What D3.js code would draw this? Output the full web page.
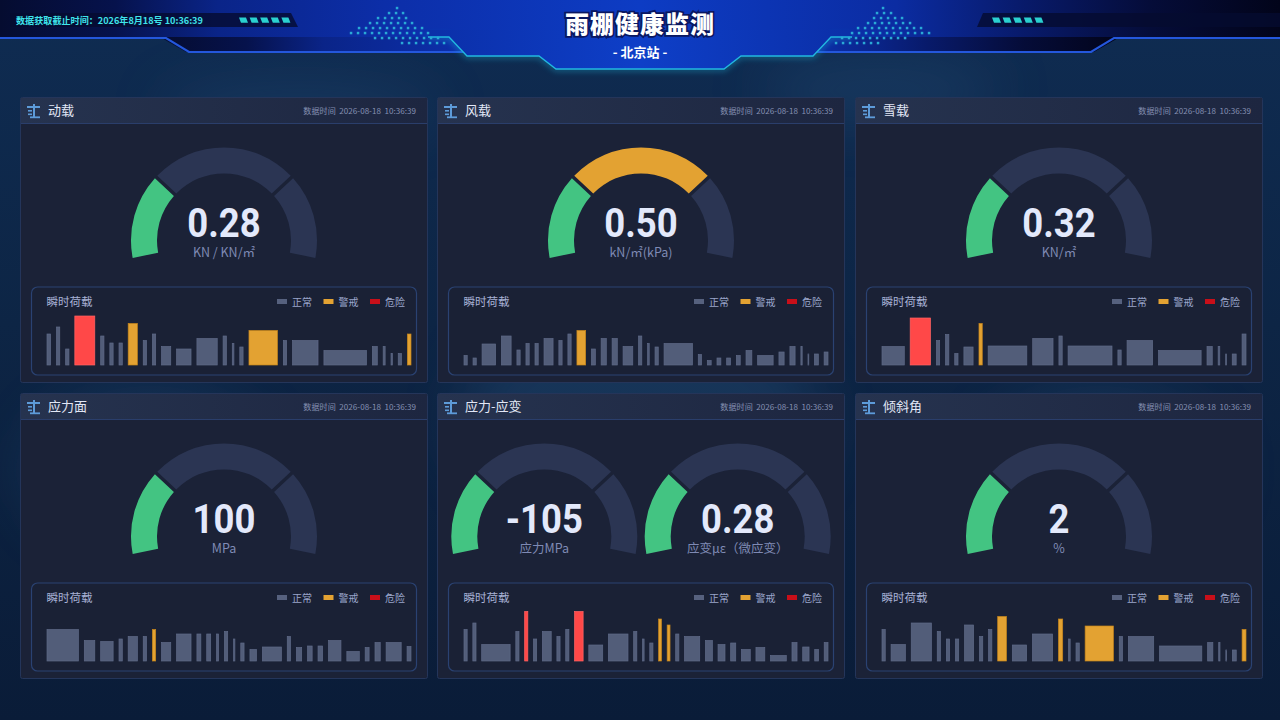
<!DOCTYPE html>
<html lang="zh">
  <head>
    <meta charset="utf-8" />
    <title>雨棚健康监测</title>
    <style>
      html, body { margin: 0; padding: 0; background: #0c2242; overflow: hidden; }
      svg { display: block; }
    </style>
  </head>
  <body>
    <!-- Load d3.js -->
    <script src="https://d3js.org/d3.v7.min.js"></script>

    <div id="my_dataviz"></div>

    <script>
      const width = 1280, height = 720;
      const cnFont = '"Noto Sans CJK SC","Noto Sans",sans-serif';
      const numFont = 'Roboto,"Noto Sans",sans-serif';

      // ---- header texts
      const updateLabel = "数据获取截止时间：2026年8月18号 10:36:39";
      const pageTitle = "雨棚健康监测";
      const stationName = "- 北京站 -";
      const dataTime = "数据时间  2026-08-18  10:36:39";

      // ---- panels
      const panelTitles = ["动载", "风载", "雪载", "应力面", "应力-应变", "倾斜角"];
      const gaugeValues = [["0.28"], ["0.50"], ["0.32"], ["100"], ["-105", "0.28"], ["2"]];
      const gaugeUnits = [["KN / KN/㎡"], ["kN/㎡(kPa)"], ["KN/㎡"], ["MPa"], ["应力MPa", "应变με（微应变）"], ["%"]];
      // 1 = 正常, 2 = 警戒, 3 = 危险
      const gaugeLevels = [[1], [2], [1], [1], [1, 1], [1]];
      const gaugeSplits = [0, 0.27, 0.73, 1];

      const chartTitle = "瞬时荷载";
      const levelNames = ["正常", "警戒", "危险"];

      // ---- 瞬时荷载: duration of each record, load value, level (0 正常 / 1 警戒 / 2 危险)
      const dur1 = [1.1, 1, 1, 6.1, 1, 1, 1, 2.8, 1, 1, 2.8, 4.4, 6.2, 1, 0.5, 1, 8.7, 1, 7.8, 13, 1.5, 0.6, 0.4, 1, 1.1];
      const load1 = [0.62, 0.76, 0.32, 0.98, 0.58, 0.44, 0.44, 0.83, 0.49, 0.62, 0.37, 0.32, 0.53, 0.58, 0.43, 0.36, 0.69, 0.49, 0.49, 0.29, 0.37, 0.37, 0.23, 0.23, 0.62];
      const lvl1 = [0, 0, 0, 2, 0, 0, 0, 1, 0, 0, 0, 0, 0, 0, 0, 0, 1, 0, 0, 0, 0, 0, 0, 0, 1];

      const dur2 = [1, 1, 4.2, 3, 1, 1, 1, 2.8, 1, 1, 2.7, 1.2, 1.6, 1.6, 3, 1, 0.5, 1, 8.8, 1, 1.2, 1.2, 1.2, 1.2, 1.8, 4.8, 1.6, 1.6, 0.4, 0.2, 1.2, 1.2];
      const load2 = [0.19, 0.14, 0.42, 0.58, 0.30, 0.43, 0.43, 0.53, 0.49, 0.62, 0.69, 0.32, 0.53, 0.53, 0.37, 0.58, 0.43, 0.36, 0.43, 0.21, 0.09, 0.14, 0.14, 0.19, 0.29, 0.19, 0.26, 0.37, 0.37, 0.22, 0.22, 0.26];
      const lvl2 = [0, 0, 0, 0, 0, 0, 0, 0, 0, 0, 1, 0, 0, 0, 0, 0, 0, 0, 0, 0, 0, 0, 0, 0, 0, 0, 0, 0, 0, 0, 0, 0];

      const dur3 = [6.8, 6.2, 1, 1, 1, 2.8, 1, 11.8, 6.2, 1, 13.4, 1, 7.8, 13, 1.6, 0.5, 0.2, 1.2, 1.2];
      const load3 = [0.37, 0.94, 0.49, 0.61, 0.23, 0.36, 0.83, 0.38, 0.53, 0.58, 0.38, 0.30, 0.49, 0.29, 0.37, 0.37, 0.22, 0.22, 0.62];
      const lvl3 = [0, 2, 0, 0, 0, 0, 1, 0, 0, 0, 0, 0, 0, 0, 0, 0, 0, 0, 0];

      const dur4 = [9.6, 3.2, 3.8, 1, 2.8, 1, 1, 2.8, 4.4, 1.2, 1.2, 0.6, 1, 0.4, 1, 2, 5.8, 1, 1.6, 1.4, 1.4, 3.8, 3.8, 1.2, 1.6, 4.6, 1.2];
      const load4 = [0.63, 0.41, 0.39, 0.44, 0.49, 0.49, 0.63, 0.37, 0.54, 0.54, 0.54, 0.54, 0.59, 0.44, 0.36, 0.23, 0.28, 0.49, 0.27, 0.30, 0.30, 0.41, 0.19, 0.27, 0.37, 0.37, 0.29];
      const lvl4 = [0, 0, 0, 0, 0, 0, 1, 0, 0, 0, 0, 0, 0, 0, 0, 0, 0, 0, 0, 0, 0, 0, 0, 0, 0, 0, 0];

      const dur5 = [1, 1, 9, 1, 1, 1, 2.8, 1, 1, 2.7, 4.4, 6.2, 1, 0.5, 1, 0.9, 0.9, 1, 4.8, 2.2, 2.2, 1.6, 2.8, 2.8, 5, 1.6, 2, 1.2, 1.2];
      const load5 = [0.63, 0.76, 0.33, 0.59, 0.99, 0.44, 0.59, 0.49, 0.63, 0.99, 0.32, 0.54, 0.59, 0.44, 0.36, 0.84, 0.72, 0.54, 0.49, 0.41, 0.33, 0.36, 0.23, 0.27, 0.11, 0.37, 0.28, 0.23, 0.37];
      const lvl5 = [0, 0, 0, 0, 2, 0, 0, 0, 0, 2, 0, 0, 0, 0, 0, 1, 1, 0, 0, 0, 0, 0, 0, 0, 0, 0, 0, 0, 0];

      const dur6 = [1, 4.4, 6.2, 1, 1, 1, 2.8, 1, 1, 2.7, 4.4, 6.2, 1.3, 0.5, 1, 8.7, 1, 7.8, 13, 1.6, 0.4, 0.2, 1.2, 1.2];
      const load6 = [0.63, 0.33, 0.76, 0.59, 0.44, 0.44, 0.72, 0.49, 0.63, 0.89, 0.32, 0.54, 0.84, 0.44, 0.36, 0.70, 0.49, 0.49, 0.30, 0.37, 0.37, 0.22, 0.22, 0.63];
      const lvl6 = [0, 0, 0, 0, 0, 0, 0, 0, 0, 1, 0, 0, 1, 0, 0, 1, 0, 0, 0, 0, 0, 0, 0, 1];

      const durations = [dur1, dur2, dur3, dur4, dur5, dur6];
      const loads = [load1, load2, load3, load4, load5, load6];
      const levels = [lvl1, lvl2, lvl3, lvl4, lvl5, lvl6];

      // ---- layout / colours
      const panelX = [20, 437, 855], panelY = [97, 393];
      const panelW = 408, panelH = 286;
      const segOn = ["#43c482", "#e3a232", "#ff4646"];
      const segOff = "#2b3553";
      const barFill = ["#525d79", "#e3a232", "#ff4848"];
      const barStroke = ["#5f6a88", "#c7861c", "#ff6464"];
      const legendFill = ["#56617e", "#e3a232", "#c80f19"];

      const svg = d3
        .select("#my_dataviz")
        .append("svg")
        .attr("width", width)
        .attr("height", height);
      const defs = svg.append("defs");

      const addLinear = (id, stops, x2, y2) => {
        const g = defs.append("linearGradient").attr("id", id)
          .attr("x1", 0).attr("y1", 0).attr("x2", x2).attr("y2", y2);
        g.selectAll("stop").data(stops).join("stop")
          .attr("offset", d => d[0]).attr("stop-color", d => d[1]);
      };
      addLinear("bg", [["0%", "#0f2c52"], ["45%", "#0d2545"], ["100%", "#0a1c38"]], 0, 1);
      addLinear("band", [["0%", "#050c30"], ["9%", "#06124c"], ["17%", "#0a2488"], ["30%", "#0c2ea8"], ["50%", "#0d3cc4"], ["70%", "#0b2ca2"], ["80%", "#081a6a"], ["90%", "#050c38"], ["100%", "#02041a"]], 1, 0);
      addLinear("banner", [["0%", "#0b2fa8"], ["50%", "#0e3fc8"], ["100%", "#0b2fa8"]], 1, 0);
      addLinear("phead", [["0%", "#26334f"], ["100%", "#1d2640"]], 1, 0);
      defs.append("filter").attr("id", "blur").attr("x", "-50%").attr("y", "-50%").attr("width", "200%").attr("height", "200%")
        .append("feGaussianBlur").attr("stdDeviation", 28);
      defs.append("filter").attr("id", "glow").attr("x", "-20%").attr("y", "-50%").attr("width", "140%").attr("height", "200%")
        .append("feGaussianBlur").attr("stdDeviation", 3);

      // ---- background
      svg.append("rect").attr("width", width).attr("height", height).attr("fill", "url(#bg)");
      const blobs = [[880, 90, 120, 30], [300, 110, 140, 25], [640, 420, 180, 120], [1100, 470, 120, 80], [150, 470, 120, 80]];
      svg.append("g").attr("filter", "url(#blur)").attr("opacity", 0.35)
        .selectAll("ellipse").data(blobs).join("ellipse")
        .attr("cx", d => d[0]).attr("cy", d => d[1]).attr("rx", d => d[2]).attr("ry", d => d[3])
        .attr("fill", "#2a5580");

      // ---- header
      const head = svg.append("g");
      head.append("rect").attr("width", width).attr("height", 38).attr("fill", "url(#band)");
      head.append("path")
        .attr("d", "M160,37 L186,52 L1094,52 L1120,37 Z")
        .attr("fill", "url(#band)");
      head.append("path")
        .attr("d", "M0,38 L166,38 L189,52 L1091,52 L1114,38 L1280,38")
        .attr("fill", "none").attr("stroke", "#2457dc").attr("stroke-width", 2.2);
      head.append("path")
        .attr("d", "M428,37 L449,37 L467,56 L539,56 L556,69 L724,69 L741,56 L813,56 L831,37 L852,37")
        .attr("fill", "none").attr("stroke", "#1fb6dc").attr("stroke-width", 4).attr("opacity", 0.5).attr("filter", "url(#glow)");
      head.append("path")
        .attr("d", "M428,37 L449,37 L467,56 L539,56 L556,69 L724,69 L741,56 L813,56 L831,37 L852,37 L852,30 L428,30 Z")
        .attr("fill", "url(#banner)");
      head.append("path")
        .attr("d", "M428,37 L449,37 L467,56 L539,56 L556,69 L724,69 L741,56 L813,56 L831,37 L852,37")
        .attr("fill", "none").attr("stroke", "#22b8e0").attr("stroke-width", 1.3);

      // dotted triangles (apex at top, lattice rows going down)
      const dots = [];
      for (let r = 0; r < 8; r++) {
        const y = r * 5;
        const x0 = -r * 9.5, x1 = r * 7.15;
        for (let x = x0 + (r % 2) * 1.5; x <= x1 + 0.1; x += 7) {
          if (y <= 25 + (x + 47) * 0.2) dots.push([x, y]);
        }
      }
      [[397, 8, 1], [883, 8, -1]].forEach(([ox, oy, s]) => {
        head.append("g")
          .selectAll("rect").data(dots).join("rect")
          .attr("x", d => ox + s * d[0] - 1.2)
          .attr("y", d => oy + d[1] - 1.2)
          .attr("width", 2.5).attr("height", 2.5)
          .attr("fill", "#2aa9d6");
      });

      // time strip (left) & deco strip (right)
      head.append("path").attr("d", "M10,13 L291,13 L298,27 L10,27 Z").attr("fill", "#050b30").attr("opacity", 0.8);
      head.append("path").attr("d", "M983,13 L1280,13 L1280,27 L977,27 Z").attr("fill", "#050b30").attr("opacity", 0.8);
      [237, 990].forEach(sx => {
        head.append("g").selectAll("path").data([0, 1, 2, 3, 4]).join("path")
          .attr("d", d => {
            const x0 = sx + d * 10.6;
            return `M${x0 + 2},17.5 L${x0 + 9},17.5 L${x0 + 11},22.8 L${x0 + 4},22.8 Z`;
          })
          .attr("fill", "#2ad0d0");
      });
      head.append("text")
        .attr("x", 16).attr("y", 24)
        .attr("font-family", cnFont).attr("font-size", 9.1).attr("font-weight", 700)
        .attr("fill", "#3fe3ea")
        .text(updateLabel);

      head.append("text")
        .attr("x", 640).attr("y", 33)
        .attr("text-anchor", "middle")
        .attr("font-family", cnFont).attr("font-size", 24).attr("font-weight", 900)
        .attr("letter-spacing", 1)
        .attr("fill", "#ffffff").attr("stroke", "#0a1760").attr("stroke-width", 3.5)
        .attr("paint-order", "stroke")
        .text(pageTitle);
      head.append("text")
        .attr("x", 640).attr("y", 57)
        .attr("text-anchor", "middle")
        .attr("font-family", cnFont).attr("font-size", 13).attr("font-weight", 700)
        .attr("fill", "#ffffff")
        .attr("xml:space", "preserve")
        .text(stationName);

      // ---- panels
      const angle = d3.scaleLinear().domain([0, 1]).range([-102 * Math.PI / 180, 102 * Math.PI / 180]);
      const arc = d3.arc().innerRadius(67).outerRadius(93).padAngle(0.03).cornerRadius(0);

      const drawGauge = (g, cx, cy, value, unit, level) => {
        const segs = d3.range(3).map(i => ({
          a0: angle(gaugeSplits[i]),
          a1: angle(gaugeSplits[i + 1]),
          color: i < level ? segOn[i] : segOff
        }));
        g.append("g").attr("transform", `translate(${cx},${cy})`)
          .selectAll("path").data(segs).join("path")
          .attr("d", d => arc({ startAngle: d.a0, endAngle: d.a1 }))
          .attr("fill", d => d.color);
        g.append("text")
          .attr("transform", `translate(${cx},${cy - 3.5}) scale(0.89,1)`)
          .attr("text-anchor", "middle")
          .attr("font-family", numFont).attr("font-size", 41).attr("font-weight", 700)
          .attr("fill", "#e3e9fb")
          .text(value);
        g.append("text")
          .attr("x", cx).attr("y", cy + 17)
          .attr("text-anchor", "middle")
          .attr("font-family", cnFont).attr("font-size", 12.5)
          .attr("fill", "#7f8ab4")
          .text(unit);
      };

      const drawBars = (g, px, py, dur, load, lvl) => {
        const gapUnit = 1.8;
        const starts = [];
        let acc = 0;
        dur.forEach(d => { starts.push(acc); acc += d + gapUnit; });
        const total = acc - gapUnit;
        const x = d3.scaleLinear().domain([0, total]).range([px + 27, px + 391]);
        const y = d3.scaleLinear().domain([0, 1]).range([py + 268, py + 218]);
        const rows = dur.map((d, i) => ({ s: starts[i], d: d, v: load[i], l: lvl[i] }));
        g.append("g")
          .selectAll("rect").data(rows).join("rect")
          .attr("x", d => x(d.s))
          .attr("width", d => Math.max(0.8, x(d.s + d.d) - x(d.s)))
          .attr("y", d => y(d.v))
          .attr("height", d => y(0) - y(d.v))
          .attr("fill", d => barFill[d.l])
          .attr("stroke", d => barStroke[d.l])
          .attr("stroke-width", 0.7);
      };

      panelTitles.forEach((title, i) => {
        const px = panelX[i % 3], py = panelY[Math.floor(i / 3)];
        const g = svg.append("g");

        g.append("rect")
          .attr("x", px + 0.5).attr("y", py + 0.5)
          .attr("width", panelW - 1).attr("height", panelH - 1)
          .attr("rx", 2)
          .attr("fill", "#1b2237").attr("stroke", "#24355a");
        g.append("rect")
          .attr("x", px + 1).attr("y", py + 1)
          .attr("width", panelW - 2).attr("height", 25)
          .attr("fill", "url(#phead)");
        g.append("line")
          .attr("x1", px + 1).attr("x2", px + panelW - 1)
          .attr("y1", py + 26.5).attr("y2", py + 26.5)
          .attr("stroke", "#2a3e6b");

        // icon
        const ic = g.append("g").attr("transform", `translate(${px + 7},${py + 7})`).attr("fill", "#5d9bd9");
        ic.append("rect").attr("x", 0).attr("y", 2).attr("width", 13).attr("height", 2);
        ic.append("rect").attr("x", 6).attr("y", 0).attr("width", 2).attr("height", 14);
        ic.append("rect").attr("x", 1).attr("y", 6).attr("width", 4).attr("height", 1.6);
        ic.append("rect").attr("x", 1).attr("y", 9.5).attr("width", 4).attr("height", 1.6);
        ic.append("rect").attr("x", 3).attr("y", 12.4).attr("width", 10).attr("height", 1.8);

        g.append("text")
          .attr("x", px + 28).attr("y", py + 18)
          .attr("font-family", cnFont).attr("font-size", 13)
          .attr("fill", "#e2e7f6")
          .text(title);
        g.append("text")
          .attr("x", px + 396).attr("y", py + 16.5)
          .attr("text-anchor", "end")
          .attr("font-family", cnFont).attr("font-size", 8.1)
          .attr("fill", "#8590b2")
          .attr("xml:space", "preserve")
          .text(dataTime);

        // gauges
        const vals = gaugeValues[i];
        const offs = vals.length === 1 ? [0] : [-96.7, 96.7];
        vals.forEach((v, k) => {
          drawGauge(g, px + 204 + offs[k], py + 143.4, v, gaugeUnits[i][k], gaugeLevels[i][k]);
        });

        // 瞬时荷载 box
        g.append("rect")
          .attr("x", px + 11.5).attr("y", py + 190)
          .attr("width", 385).attr("height", 88)
          .attr("rx", 6)
          .attr("fill", "#1a2135").attr("stroke", "#2a4272").attr("stroke-width", 1.2);
        g.append("text")
          .attr("x", px + 26.5).attr("y", py + 209)
          .attr("font-family", cnFont).attr("font-size", 11.5)
          .attr("fill", "#a8b2d6")
          .text(chartTitle);
        const legend = g.append("g").selectAll("g").data(levelNames).join("g")
          .attr("transform", (d, k) => `translate(${px + 257 + k * 46.5},${py + 202})`);
        legend.append("rect")
          .attr("x", 0).attr("y", 0).attr("width", 10).attr("height", 5)
          .attr("fill", (d, k) => legendFill[k]);
        legend.append("text")
          .attr("x", 15).attr("y", 6.5)
          .attr("font-family", cnFont).attr("font-size", 10)
          .attr("fill", "#9ba6cb")
          .text(d => d);

        drawBars(g, px, py, durations[i], loads[i], levels[i]);
      });
    </script>
  </body>
</html>
